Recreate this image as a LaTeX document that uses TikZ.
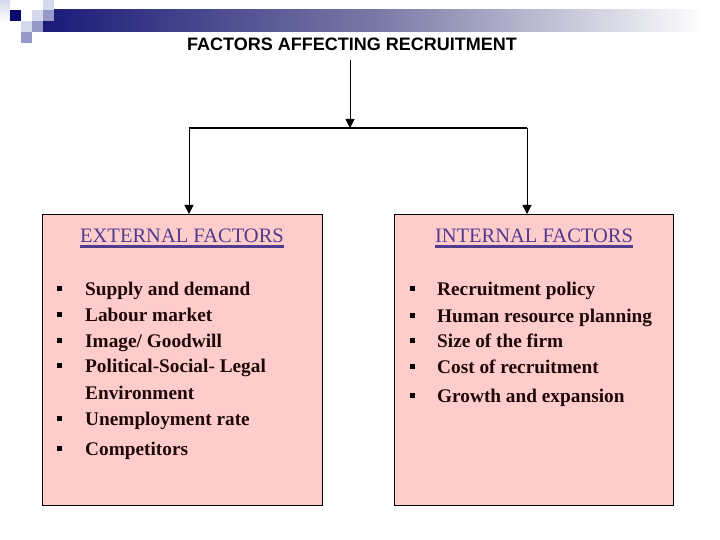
\documentclass[tikz,border=0pt]{standalone}
\usepackage{fontspec}
\setmainfont{Liberation Serif}
\newfontfamily\titlefont{Liberation Sans}
\usetikzlibrary{arrows.meta}
\definecolor{boxpink}{RGB}{255,204,204}
\definecolor{headpurple}{RGB}{80,60,140}
\definecolor{itemtext}{RGB}{30,8,8}
\definecolor{navybar}{RGB}{26,26,120}
\definecolor{navymid}{RGB}{120,120,165}
\definecolor{sqdark}{RGB}{10,10,110}
\definecolor{sqlight}{RGB}{214,216,236}
\definecolor{sqmed}{RGB}{150,152,200}
\tikzset{
  factorbox/.style={draw=black, line width=1.2pt, fill=boxpink, minimum width=280pt, minimum height=291pt, inner sep=0pt, anchor=north west},
  heading/.style={font=\fontsize{20.5}{24}\selectfont, text=headpurple, inner sep=0pt, anchor=base},
  item/.style={font=\bfseries\fontsize{19.3}{23}\selectfont, text=itemtext, inner sep=0pt, anchor=base west},
  bulletsq/.style={fill=black, minimum size=4.5pt, inner sep=0pt},
  conn/.style={line width=1pt, -{Triangle[length=9pt,width=9pt]}},
}
\begin{document}
\begin{tikzpicture}[x=1pt,y=-1pt]
\useasboundingbox (0,0) rectangle (720,540);
% decoration
\shade[left color=navybar, right color=white, middle color=navymid] (43,10) rectangle (705,32);
\fill[white] (705,10) rectangle (720,32);
\shade[top color=sqlight, bottom color=white] (0,0) rectangle (10,22);
\fill[sqdark] (10,10) rectangle (21,21);
\fill[sqlight] (43,0) rectangle (54,10);
\fill[sqlight] (32,10) rectangle (43,21);
\fill[sqmed] (43,10) rectangle (54,21);
\fill[sqlight] (21,21) rectangle (32,32);
\fill[sqmed] (32,21) rectangle (43,32);
\fill[sqmed] (21,32) rectangle (32,43);
% title
\node[font=\titlefont\bfseries\fontsize{18}{20}\selectfont, inner sep=0pt, anchor=base] (t) at (352,51) {FACTORS AFFECTING RECRUITMENT};
% boxes
\node[factorbox] (L) at (42,214) {};
\node[factorbox, minimum width=279pt] (R) at (394,214) {};
% connectors
\coordinate (top) at (350,60);
\coordinate (j) at (350,128);
\coordinate (jl) at (189,128);
\coordinate (jr) at (527,128);
\draw[conn] (top) -- (j);
\draw[line width=2pt] (jl) -- (jr);
\draw[conn] (jl) -- (jl |- L.north);
\draw[conn] (jr) -- (jr |- R.north);
% headings
\node[heading] (hl) at (182,242) {EXTERNAL FACTORS};
\draw[headpurple, line width=2.5pt] ([yshift=-4.5pt]hl.base west) -- ([yshift=-4.5pt]hl.base east);
\node[heading] (hr) at (534,242) {INTERNAL FACTORS};
\draw[headpurple, line width=2.5pt] ([yshift=-4.5pt]hr.base west) -- ([yshift=-4.5pt]hr.base east);
% left items
\foreach \y/\txt [count=\i] in {295/{Supply and demand}, 321/{Labour market}, 347/{Image/ Goodwill}, 372/{Political-Social- Legal}, 425/{Unemployment rate}, 455/{Competitors}}{
  \node[bulletsq] (lb\i) at (59.5,\y-6.5) {};
  \node[item] (li\i) at (85,\y) {\txt};
}
\node[item] (lenv) at (85,399) {Environment};
% right items
\foreach \y/\txt [count=\i] in {295/{Recruitment policy}, 322/{Human resource planning}, 347/{Size of the firm}, 373/{Cost of recruitment}, 402/{Growth and expansion}}{
  \node[bulletsq] (rb\i) at (412.5,\y-6.5) {};
  \node[item] (ri\i) at (437,\y) {\txt};
}
\end{tikzpicture}
\end{document}
